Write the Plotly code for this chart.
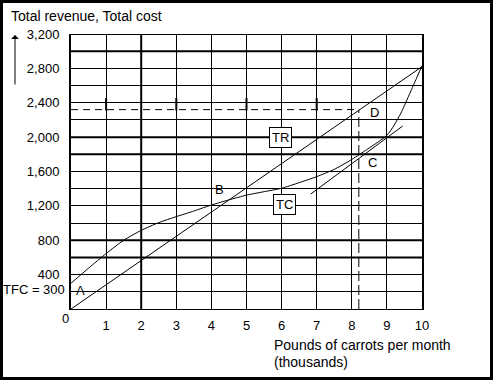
import plotly.graph_objects as go

# ---- data ----
tr_q = [0, 10]
tr_val = [0, 2820]

tc_q = [0, 0.5, 1, 1.5, 2, 2.5, 3, 3.5, 4, 4.5, 5, 5.5, 6, 6.5, 7, 7.5, 8, 8.5, 9, 9.2, 9.4, 9.6, 9.8, 10]
tc_val = [300, 475, 645, 800, 915, 1005, 1075, 1140, 1210, 1270, 1325, 1365, 1405, 1470,
          1540, 1625, 1740, 1875, 2020, 2135, 2280, 2460, 2645, 2830]

tangent_q = [6.83, 9.45]
tangent_val = [1338, 2129]

d_q = 8.2
d_val = 2320

x_tick_vals = [1, 2, 3, 4, 5, 6, 7, 8, 9, 10]
x_tick_text = ["1", "2", "3", "4", "5", "6", "7", "8", "9", "10"]
y_tick_vals = [400, 800, 1200, 1600, 2000, 2400, 2800, 3200]
y_tick_text = ["400", "800", "1,200", "1,600", "2,000", "2,400", "2,800", "3,200"]

thick_y = [600, 800, 1800, 2000, 3000, 3200]
thick_x = [2]
mark_q = [1, 3, 5, 7]

FONT = "Liberation Sans, Arial, sans-serif"

fig = go.Figure()

fig.add_trace(go.Scatter(x=tr_q, y=tr_val, mode="lines",
                         line=dict(color="black", width=1), hoverinfo="skip"))
fig.add_trace(go.Scatter(x=tc_q, y=tc_val, mode="lines",
                         line=dict(color="black", width=1, shape="spline", smoothing=0.6),
                         hoverinfo="skip"))
fig.add_trace(go.Scatter(x=tangent_q, y=tangent_val, mode="lines",
                         line=dict(color="black", width=1), hoverinfo="skip"))
# dashed guide lines to D
fig.add_trace(go.Scatter(x=[0, d_q], y=[d_val, d_val], mode="lines",
                         line=dict(color="black", width=1, dash="7px,5px"), hoverinfo="skip"))
fig.add_trace(go.Scatter(x=[d_q, d_q], y=[0, d_val], mode="lines",
                         line=dict(color="black", width=1, dash="10px,4px"), hoverinfo="skip"))

shapes = []
for v in thick_y:
    shapes.append(dict(type="line", xref="x", yref="y", x0=0, x1=10, y0=v, y1=v,
                       line=dict(color="black", width=2), layer="below"))
for v in thick_x:
    shapes.append(dict(type="line", xref="x", yref="y", x0=v, x1=v, y0=0, y1=3200,
                       line=dict(color="black", width=2), layer="below"))
for q in mark_q:
    shapes.append(dict(type="line", xref="x", yref="y", x0=q, x1=q, y0=2310, y1=2455,
                       line=dict(color="black", width=2), layer="below"))
# outer frame
shapes.append(dict(type="rect", xref="paper", yref="paper",
                   x0=(1.5 - 71) / 351, x1=(491.5 - 71) / 351,
                   y0=(309 - 378.5) / 275, y1=(309 - 1.5) / 275,
                   line=dict(color="black", width=3), fillcolor="rgba(0,0,0,0)"))

annotations = []
def lab(x, y, text, box=False, size=13):
    d = dict(x=x, y=y, xref="x", yref="y", text=text, showarrow=False,
             font=dict(family=FONT, size=size, color="black"))
    if box:
        d.update(bgcolor="white", bordercolor="black", borderwidth=1, borderpad=2)
    annotations.append(d)

lab(0.27, 221, "A")
lab(4.22, 1385, "B")
lab(8.6, 1699, "C")
lab(8.66, 2292, "D")
lab(5.97, 1990, "TR", box=True)
lab(6.07, 1216, "TC", box=True)

def pap(px, py, text, xanchor="left", size=14):
    annotations.append(dict(x=(px - 71) / 351, y=(309 - py) / 275, xref="paper", yref="paper",
                            text=text, showarrow=False, xanchor=xanchor, yanchor="middle",
                            font=dict(family=FONT, size=size, color="black")))

pap(9, 16, "Total revenue, Total cost")
pap(272, 345, "Pounds of carrots per month")
pap(272, 362, "(thousands)")
pap(67, 289, "TFC = 300", xanchor="right", size=13)
pap(65.7, 318, "0", xanchor="center", size=13)

# up arrow
annotations.append(dict(x=(15 - 71) / 351, y=(309 - 35) / 275, xref="paper", yref="paper",
                        text="", showarrow=True, ax=0, ay=51, arrowhead=1, arrowsize=1.3,
                        arrowwidth=1, arrowcolor="black"))

fig.update_layout(
    width=493, height=380,
    margin=dict(l=71, r=71, t=34, b=71),
    paper_bgcolor="white", plot_bgcolor="white",
    showlegend=False,
    font=dict(family=FONT, size=13, color="black"),
    shapes=shapes, annotations=annotations,
    xaxis=dict(range=[0, 10], tickvals=x_tick_vals, ticktext=x_tick_text,
               showgrid=True, gridcolor="black", gridwidth=1, zeroline=False,
               showline=True, linecolor="black", linewidth=1, ticks="",
               ticklabelstandoff=4, fixedrange=True),
    yaxis=dict(range=[0, 3200], tickvals=y_tick_vals, ticktext=y_tick_text,
               showgrid=True, gridcolor="black", gridwidth=1, zeroline=False,
               showline=True, linecolor="black", linewidth=2, mirror=True, ticks="",
               ticklabelstandoff=7, fixedrange=True,
               minor=dict(tick0=0, dtick=200, showgrid=True, gridcolor="black", gridwidth=1)),
)

fig.write_html("out.html", config={"displayModeBar": False},
               post_script="document.body.style.margin='0px';")
